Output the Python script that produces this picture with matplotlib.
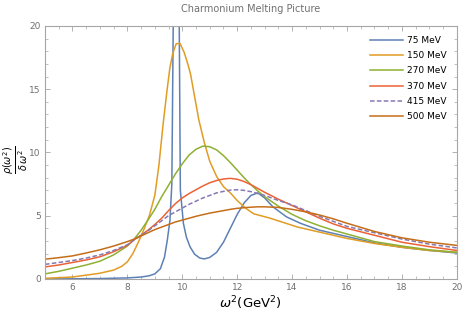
import matplotlib
matplotlib.use('Agg')
import matplotlib.pyplot as plt
from matplotlib.ticker import MultipleLocator

# spectral functions
labels = ['75 MeV', '150 MeV', '270 MeV', '370 MeV', '415 MeV', '500 MeV']

x_75 = [5, 6, 7, 8, 8.5, 8.8, 9.0, 9.2, 9.35, 9.45, 9.55, 9.62, 9.67, 9.72, 9.78,
        9.84, 9.89, 9.93, 10.04, 10.15, 10.28, 10.45, 10.64, 10.8, 11.0, 11.25,
        11.5, 11.75, 12.0, 12.25, 12.5, 12.75, 13.0, 13.3, 13.8, 14.3, 15, 16, 17,
        18, 19, 20]
y_75 = [0.0, 0.01, 0.03, 0.08, 0.15, 0.25, 0.4, 0.8, 1.7, 3.0, 4.6, 7.5, 20, 40, 60,
        40, 20, 7.0, 4.4, 3.3, 2.55, 1.95, 1.65, 1.58, 1.7, 2.1,
        2.9, 4.0, 5.1, 6.0, 6.6, 6.8, 6.4, 5.7, 4.9, 4.4, 3.85, 3.35, 2.85,
        2.5, 2.25, 2.05]

x_150 = [5, 6, 6.5, 7, 7.5, 7.8, 8.0, 8.2, 8.4, 8.6, 8.8, 9.0, 9.15, 9.3, 9.45, 9.55,
         9.65, 9.78, 9.92, 10.07, 10.2, 10.3, 10.45, 10.6, 10.8, 11.0, 11.25, 11.5,
         11.75, 12.0, 12.3, 12.6, 13.2, 14.2, 15, 16, 17, 18, 19, 20]
y_150 = [0.05, 0.15, 0.3, 0.45, 0.7, 1.0, 1.35, 2.0, 2.9, 3.9, 5.0, 6.6, 9.0, 12.2,
         15.0, 16.7, 17.8, 18.6, 18.6, 17.9, 17.0, 16.2, 14.4, 12.6, 10.8, 9.3, 8.1,
         7.3, 6.8, 6.2, 5.6, 5.15, 4.8, 4.1, 3.7, 3.2, 2.8, 2.5, 2.25, 2.1]

x_slow = [5, 5.5, 6, 6.5, 7, 7.5, 8, 8.25, 8.5, 8.75, 9, 9.25, 9.5, 9.75, 10, 10.25,
          10.5, 10.75, 11, 11.25, 11.5, 11.75, 12, 12.25, 12.5, 12.75, 13, 13.5, 14,
          14.5, 15, 15.5, 16, 17, 18, 19, 20]
y_270 = [0.4, 0.6, 0.85, 1.1, 1.4, 1.9, 2.6, 3.15, 3.85, 4.65, 5.5, 6.5, 7.4, 8.3,
         9.1, 9.8, 10.25, 10.5, 10.45, 10.2, 9.75, 9.2, 8.6, 8.0, 7.45, 6.95, 6.5,
         5.75, 5.1, 4.6, 4.2, 3.85, 3.55, 2.95, 2.6, 2.3, 2.1]
y_370 = [0.95, 1.1, 1.3, 1.5, 1.75, 2.15, 2.65, 3.1, 3.45, 3.85, 4.3, 4.8, 5.4, 5.95,
         6.4, 6.75, 7.05, 7.35, 7.6, 7.78, 7.9, 7.95, 7.88, 7.7, 7.45, 7.15, 6.85,
         6.3, 5.8, 5.3, 4.8, 4.35, 4.0, 3.45, 2.9, 2.55, 2.25]
y_415 = [1.15, 1.3, 1.45, 1.65, 1.9, 2.25, 2.7, 3.1, 3.45, 3.8, 4.2, 4.6, 5.0, 5.3,
         5.6, 5.9, 6.15, 6.4, 6.6, 6.8, 6.92, 7.02, 7.05, 7.0, 6.9, 6.75, 6.6,
         6.2, 5.85, 5.4, 4.95, 4.55, 4.15, 3.65, 3.15, 2.75, 2.45]
y_500 = [1.56, 1.68, 1.82, 2.05, 2.3, 2.6, 2.95, 3.15, 3.4, 3.65, 3.9, 4.1, 4.3, 4.5,
         4.65, 4.8, 4.95, 5.08, 5.2, 5.3, 5.4, 5.5, 5.58, 5.63, 5.67, 5.7, 5.7,
         5.65, 5.5, 5.3, 5.05, 4.75, 4.4, 3.75, 3.25, 2.9, 2.65]

colors = ['#5E81B5', '#E19C24', '#8FB032', '#EB6235', '#8778B3', '#C56E1A']

series = [(x_75, y_75), (x_150, y_150), (x_slow, y_270),
          (x_slow, y_370), (x_slow, y_415), (x_slow, y_500)]

fig = plt.figure(figsize=(4.71, 3.12), dpi=100)
ax = fig.add_axes([0.0955, 0.106, 0.8745, 0.811])

for (xs, ys), c, lab in zip(series, colors, labels):
    ls = (0, (3, 1.5)) if lab == '415 MeV' else '-'
    ax.plot(xs, ys, color=c, lw=1.1, ls=ls, label=lab)

ax.set_xlim(5, 20)
ax.set_ylim(0, 20)
ax.xaxis.set_major_locator(MultipleLocator(2))
ax.xaxis.set_minor_locator(MultipleLocator(0.5))
ax.yaxis.set_major_locator(MultipleLocator(5))
ax.yaxis.set_minor_locator(MultipleLocator(1))

frame = '#a6a6a6'
for s in ax.spines.values():
    s.set_color(frame)
    s.set_linewidth(0.8)
ax.tick_params(which='both', direction='in', top=True, right=True,
               color=frame, labelcolor='#707070', labelsize=6.5, pad=3)
ax.tick_params(which='major', length=3.5, width=0.6)
ax.tick_params(which='minor', length=2, width=0.5)

ax.set_title('Charmonium Melting Picture', fontsize=7, color='#707070', pad=10)
ax.set_xlabel(r'$\omega^2$(GeV$^2$)', fontsize=9.5, labelpad=2)
# y label placed by hand so the fraction stays clear of the tick labels
fig.text(16 / 471, 0.49, r'$\frac{\rho\left(\omega^2\right)}{\delta\,\omega^2}$',
         fontsize=10, rotation=90, ha='center', va='center')

leg = ax.legend(loc='upper right', frameon=False, fontsize=6.5, handlelength=3.6,
                handletextpad=0.5, labelspacing=0.7, borderaxespad=0.7)

fig.savefig('out.png', dpi=100)
